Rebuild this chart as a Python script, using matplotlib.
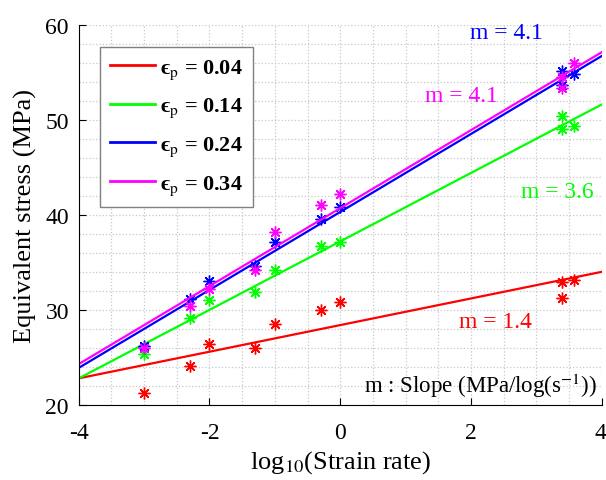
import numpy as np
import matplotlib
matplotlib.use("Agg")
import matplotlib.pyplot as plt
from matplotlib.ticker import MultipleLocator
from matplotlib.transforms import ScaledTranslation

plt.rcParams['font.family'] = ['Liberation Serif', 'DejaVu Serif']
plt.rcParams['mathtext.fontset'] = 'stix'
plt.rcParams['axes.unicode_minus'] = False

# log10 of strain rate for each test
log_rate = [-3.0, -2.3, -2.0, -1.3, -1.0, -0.3, 0.0, 3.4, 3.4, 3.57]

# equivalent stress (MPa) at each plastic strain level
stress_004 = [21.3, 24.1, 26.4, 26.0, 28.5, 30.0, 30.8, 32.9, 31.2, 33.1]
stress_014 = [25.4, 29.1, 31.0, 31.9, 34.2, 36.7, 37.1, 50.4, 49.0, 49.3]
stress_024 = [26.2, 31.1, 33.0, 34.6, 37.1, 39.6, 40.8, 55.1, 53.6, 54.8]
stress_034 = [26.0, 30.4, 32.2, 34.2, 38.2, 41.0, 42.2, 54.5, 53.3, 56.0]

strain_labels = ['0.04', '0.14', '0.24', '0.34']
colors = ['#ff0000', '#00ff00', '#0000ff', '#ff00ff']

# linear fits: stress = intercept + slope * log10(rate)
slopes = [1.4, 3.6, 4.1, 4.1]
intercepts = [28.4, 37.2, 40.3, 40.7]

# slope annotations (x, y) in data units
slope_text_pos = [(1.81, 28.8), (2.76, 42.5), (1.99, 59.2), (1.30, 52.5)]

fig = plt.figure(figsize=(6.06, 4.81), dpi=100)
ax = fig.add_axes([0.1299, 0.156, 0.863, 0.7907])

series = [stress_004, stress_014, stress_024, stress_034]
x_fit = np.array([-4.0, 4.0])
handles = []
for s, lab, c, m, b in zip(series, strain_labels, colors, slopes, intercepts):
    ax.plot(log_rate, s, linestyle='none', marker=(8, 2, 0), markersize=8.5,
            markeredgewidth=1.0, color=c)
    h, = ax.plot(x_fit, b + m * x_fit, color=c, linewidth=1.6,
                 label='\u03f5$_{\\mathrm{p}}$ = ' + lab)
    handles.append(h)

for (tx, ty), m, c in zip(slope_text_pos, slopes, colors):
    ax.text(tx, ty, f'm = {m}', color=c, fontsize=17, ha='left', va='center')

ax.text(3.93, 22.1, r'm : Slope (MPa/log(s$^{-1}$))', color='black',
        fontsize=16.5, ha='right', va='center')

ax.set_xlim(-4, 4)
ax.set_ylim(20, 60)
ax.xaxis.set_major_locator(MultipleLocator(2))
ax.yaxis.set_major_locator(MultipleLocator(10))
ax.xaxis.set_minor_locator(MultipleLocator(0.5))
ax.yaxis.set_minor_locator(MultipleLocator(2))
ax.grid(which='both', linestyle=':', color='#c8c8c8', linewidth=0.9)
ax.set_axisbelow(True)

for side in ('top', 'right'):
    ax.spines[side].set_visible(False)
for side in ('left', 'bottom'):
    ax.spines[side].set_linewidth(0.8)
ax.tick_params(which='major', direction='in', length=5, width=0.8,
               labelsize=17)
ax.tick_params(axis='x', which='major', pad=12)
ax.tick_params(axis='y', which='major', pad=7)
ax.tick_params(which='minor', length=0)

ax.set_xlabel(r'log$_{10}$(Strain rate)', fontsize=19, labelpad=4)
ax.set_ylabel('Equivalent stress (MPa)', fontsize=19, labelpad=6)

leg = ax.legend(handles=handles, loc='upper left', bbox_to_anchor=(0.041, 0.941),
                borderaxespad=0, fancybox=False, framealpha=1,
                edgecolor='#808080', handlelength=2.0, handletextpad=0.25,
                labelspacing=0.68, borderpad=0.45,
                prop={'size': 16, 'weight': 'bold'})
leg.get_frame().set_linewidth(1.0)
for line in leg.get_lines():
    line.set_linewidth(2.0)

# keep the rightmost x tick label inside the figure edge
fig.canvas.draw()
for lbl in ax.get_xticklabels():
    if lbl.get_text() == '4':
        lbl.set_horizontalalignment('right')
        lbl.set_transform(lbl.get_transform() +
                          ScaledTranslation(5 / 100, 0, fig.dpi_scale_trans))

fig.savefig('out.png', dpi=100)
